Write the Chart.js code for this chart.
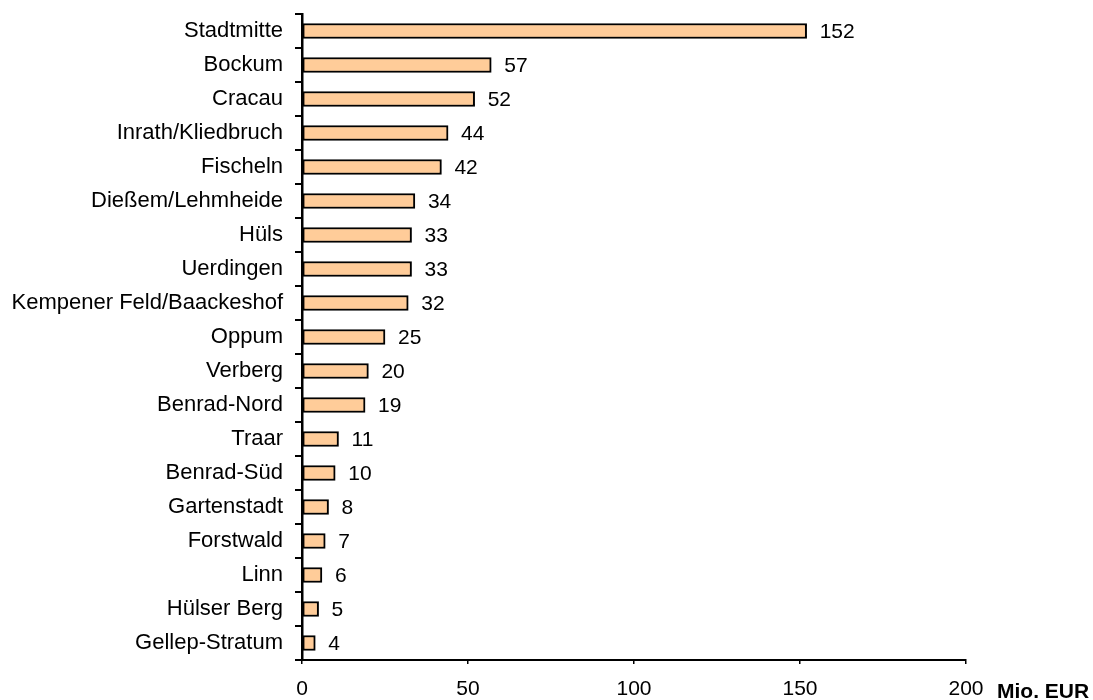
<!DOCTYPE html>
<html>
<head>
<meta charset="utf-8">
<script src="https://cdn.jsdelivr.net/npm/chart.js@4"></script>
<style>
  html, body { margin: 0; padding: 0; background: #fff; }
  #wrap { width: 1093px; height: 700px; position: relative; }
</style>
</head>
<body>
<div id="wrap"><canvas id="districtChart" width="1093" height="700"></canvas></div>
<script>
// Stadtteile und Werte (Mio. EUR)
const districts = [
  'Stadtmitte', 'Bockum', 'Cracau', 'Inrath/Kliedbruch', 'Fischeln',
  'Dießem/Lehmheide', 'Hüls', 'Uerdingen', 'Kempener Feld/Baackeshof', 'Oppum',
  'Verberg', 'Benrad-Nord', 'Traar', 'Benrad-Süd', 'Gartenstadt',
  'Forstwald', 'Linn', 'Hülser Berg', 'Gellep-Stratum'
];
const amounts = [152, 57, 52, 44, 42, 34, 33, 33, 32, 25, 20, 19, 11, 10, 8, 7, 6, 5, 4];
const xTicks = [0, 50, 100, 150, 200];
const unitLabel = 'Mio. EUR';

const FONT = 'Arial, "Liberation Sans", sans-serif';

// value next to each bar + unit label at the end of the x axis
const barLabels = {
  id: 'barLabels',
  afterDatasetsDraw(chart) {
    const { ctx } = chart;
    const meta = chart.getDatasetMeta(0);
    ctx.save();
    ctx.font = '21px ' + FONT;
    ctx.fillStyle = '#000';
    ctx.textAlign = 'left';
    ctx.textBaseline = 'middle';
    meta.data.forEach((bar, i) => {
      ctx.fillText(String(amounts[i]), bar.x + 13, bar.y + 1);
    });
    ctx.font = 'bold 21px ' + FONT;
    ctx.fillText(unitLabel, 997, 692);
    ctx.restore();
  }
};

new Chart(document.getElementById('districtChart'), {
  type: 'bar',
  data: {
    labels: districts,
    datasets: [{
      data: amounts,
      backgroundColor: '#FFCC99',
      borderColor: '#000',
      borderWidth: 2,
      borderSkipped: false,
      barThickness: 15
    }]
  },
  options: {
    indexAxis: 'y',
    responsive: false,
    animation: false,
    layout: { padding: { top: 14, right: 127, left: 0, bottom: 0 } },
    plugins: { legend: { display: false }, tooltip: { enabled: false } },
    scales: {
      x: {
        min: 0, max: 200,
        afterBuildTicks: s => { s.ticks = xTicks.map(v => ({ value: v })); },
        afterFit: s => { s.height = 40; s.paddingLeft = 0; s.paddingRight = 0; },
        grid: { drawOnChartArea: false, tickLength: 4, color: '#000', lineWidth: 1.5 },
        border: { color: '#000', width: 2 },
        ticks: { color: '#000', font: { family: FONT, size: 21 }, padding: 13, maxRotation: 0 }
      },
      y: {
        afterFit: s => { s.width = 302; s.paddingTop = 0; s.paddingBottom = 0; },
        grid: { offset: true, drawOnChartArea: false, tickLength: 7, color: '#000', lineWidth: 2 },
        border: { color: '#000', width: 2.5 },
        ticks: { color: '#000', font: { family: FONT, size: 22 }, padding: 12, autoSkip: false }
      }
    }
  },
  plugins: [barLabels]
});
</script>
</body>
</html>
